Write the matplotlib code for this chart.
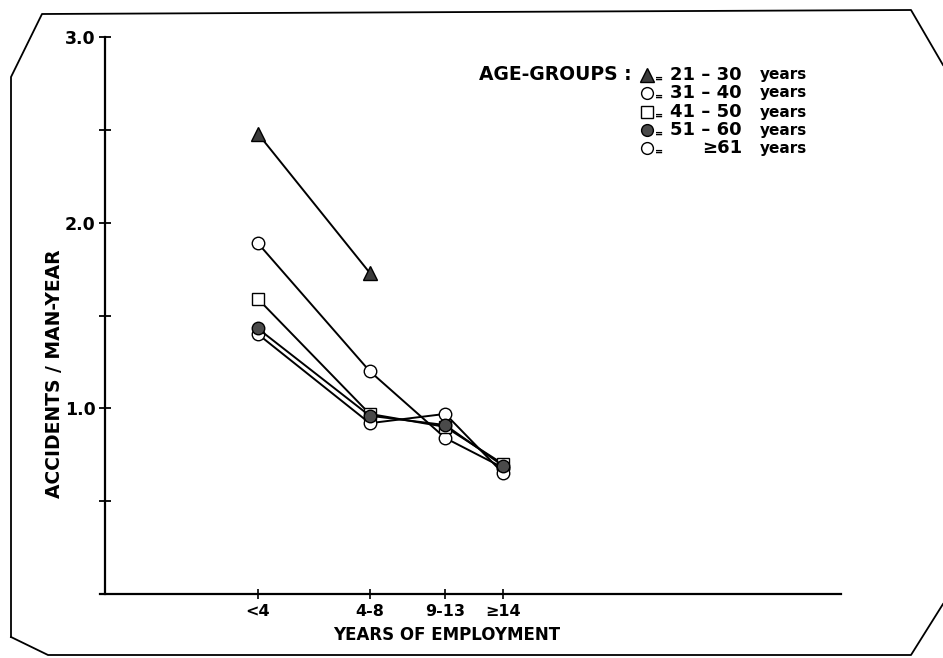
import numpy as np
import matplotlib
matplotlib.use('Agg')
import matplotlib.pyplot as plt
from matplotlib.lines import Line2D

plt.rcParams['font.family'] = ['DejaVu Sans']

# years of employment classes
employment = ['<4', '4-8', '9-13', '\u226514']

# accidents per man-year for each age group
age_21_30 = [2.48, 1.73, np.nan, np.nan]
age_31_40 = [1.89, 1.20, 0.84, 0.68]
age_41_50 = [1.59, 0.97, 0.90, 0.70]
age_51_60 = [1.43, 0.96, 0.91, 0.69]
age_61_up = [1.40, 0.92, 0.97, 0.65]

age_labels = ['21 \u2013 30', '31 \u2013 40', '41 \u2013 50', '51 \u2013 60', '\u226561']

# where the employment classes sit along the x axis
x_pos = [21.3, 36.4, 46.6, 54.4]

W, H = 943, 658
fig = plt.figure(figsize=(W / 100, H / 100), dpi=100)
ax = fig.add_axes([100 / W, 1 - 594 / H, 741 / W, 557 / H])

styles = [
	(age_21_30, dict(marker='^', ms=10.5, mfc='#3c3c3c', mec='black')),
	(age_31_40, dict(marker='o', ms=9, mfc='white', mec='black')),
	(age_41_50, dict(marker='s', ms=8.5, mfc='white', mec='black')),
	(age_61_up, dict(marker='o', ms=9, mfc='white', mec='black')),
	(age_51_60, dict(marker='o', ms=9, mfc='#4a4a4a', mec='black')),
]
for values, st in styles:
	ax.plot(x_pos, values, color='black', lw=1.4, mew=1.0, **st)

ax.set_xlim(0, 100)
ax.set_ylim(0, 3.0)
for s in ['top', 'right']:
	ax.spines[s].set_visible(False)
ax.spines['left'].set_position(('axes', 0.007))
ax.spines['left'].set_linewidth(1.6)
ax.spines['bottom'].set_linewidth(1.6)

ax.set_yticks(np.arange(0.5, 3.01, 0.5))
ax.set_yticklabels(['', '1.0', '', '2.0', '', '3.0'])
ax.set_xticks(x_pos)
ax.set_xticklabels(employment)
ax.tick_params(axis='y', direction='inout', length=8, width=1.3, pad=3,
			   labelsize=12.5)
ax.tick_params(axis='x', direction='inout', length=7, width=1.2, pad=4,
			   labelsize=11.5)
for lab in ax.get_xticklabels() + ax.get_yticklabels():
	lab.set_fontweight('bold')

fig.text(55 / W, 1 - 374 / H, 'ACCIDENTS / MAN-YEAR', rotation=90,
		 ha='center', va='center', fontsize=13.5, fontweight='bold')
fig.text(447 / W, 1 - 635 / H, 'YEARS OF EMPLOYMENT',
		 ha='center', va='center', fontsize=12, fontweight='bold')

# key in the upper right
rows_y = [75, 93, 112, 130, 148]
key_marks = [st for _, st in styles]
key_marks = [key_marks[0], key_marks[1], key_marks[2], key_marks[4], key_marks[3]]
fig.text(632 / W, 1 - rows_y[0] / H, 'AGE-GROUPS :', ha='right', va='center',
		 fontsize=13.5, fontweight='bold')
for i, (yy, lab) in enumerate(zip(rows_y, age_labels)):
	fy = 1 - yy / H
	st = dict(key_marks[i])
	st['ms'] = st['ms'] - 0.5
	fig.add_artist(Line2D([647 / W], [fy], lw=0, mew=1.0, **st))
	fig.text(659 / W, fy - 0.005, '=', ha='center', va='center', fontsize=7,
			 fontweight='bold')
	fig.text(742 / W, fy, lab, ha='right', va='center', fontsize=13,
			 fontweight='bold')
	fig.text(760 / W, fy, 'years', ha='left', va='center', fontsize=11,
			 fontweight='bold')

# chamfered frame round the figure
frame_x = [11, 11, 42, 911, 943]
frame_y = [637, 77, 14, 10, 65]
fig.add_artist(Line2D(np.array(frame_x) / W, 1 - np.array(frame_y) / H,
					  color='black', lw=1.3))
bottom_x = [11, 48, 911, 943]
bottom_y = [637, 655, 655, 604]
fig.add_artist(Line2D(np.array(bottom_x) / W, 1 - np.array(bottom_y) / H,
					  color='black', lw=1.3))

fig.savefig('out.png', dpi=100)
